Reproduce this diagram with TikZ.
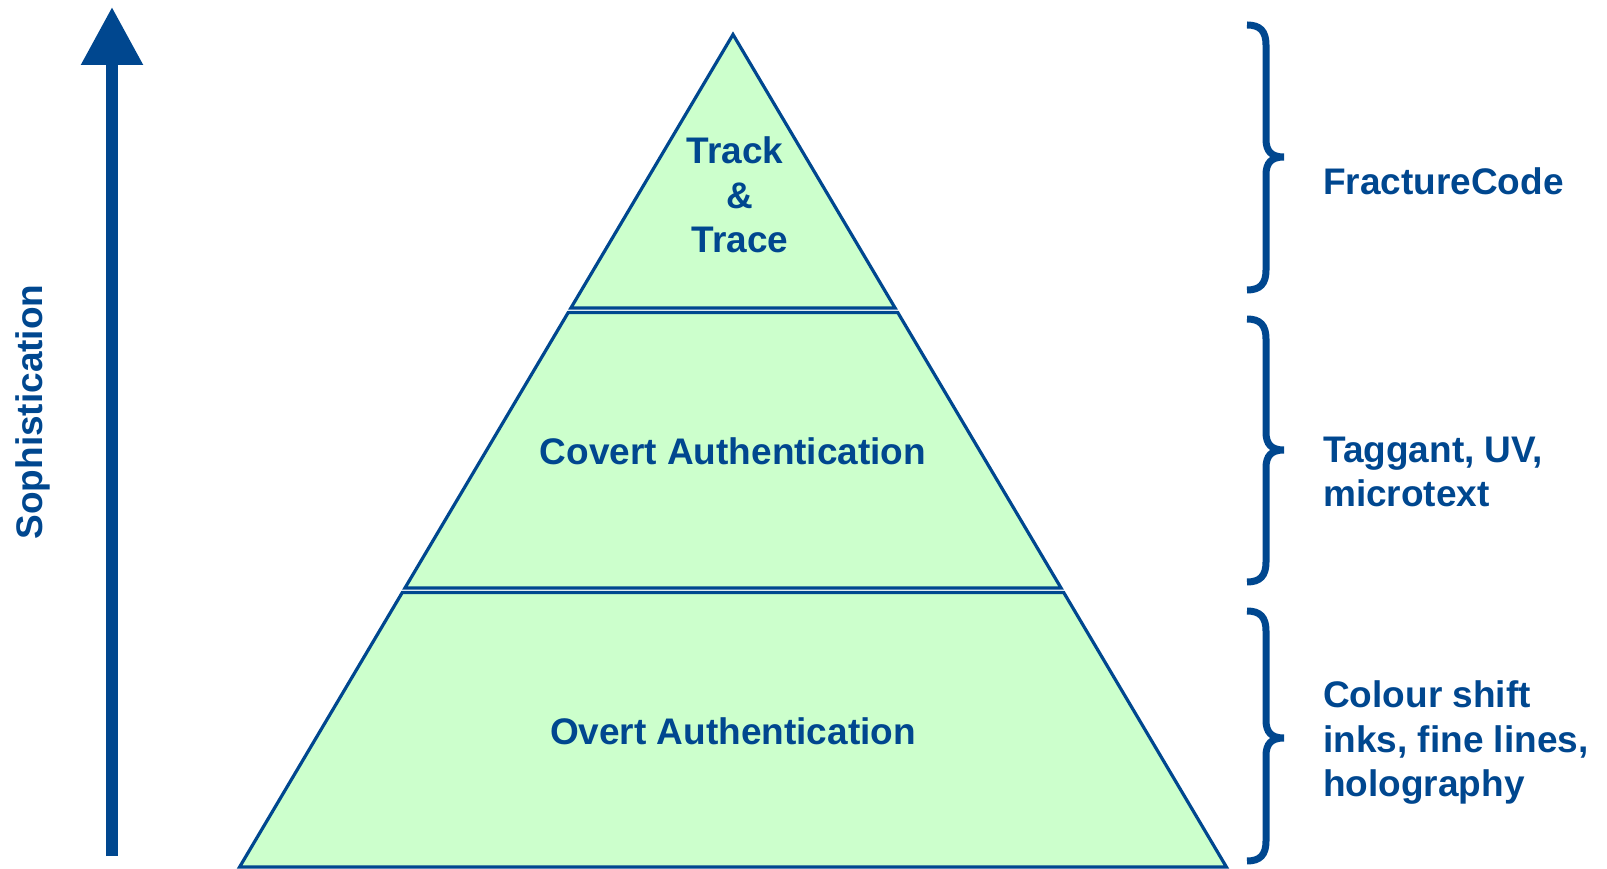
\documentclass[tikz,border=0pt]{standalone}
\usepackage{fontspec}
\setmainfont{Liberation Sans}
\usetikzlibrary{arrows.meta}
\definecolor{pyrblue}{RGB}{0,71,143}
\definecolor{pyrgreen}{RGB}{204,255,204}
\tikzset{
  layer/.style={draw=pyrblue, fill=pyrgreen, line width=3.2pt, line join=miter},
  pyrtext/.style={text=pyrblue, font=\bfseries\fontsize{37}{44.5}\selectfont, inner sep=0pt, align=center},
  sidetext/.style={pyrtext, anchor=west, align=left},
  bracket/.style={draw=pyrblue, line width=7pt}
}
\begin{document}
\begin{tikzpicture}[x=1pt,y=1pt]
    \useasboundingbox (0,0) rectangle (1607,868);
    \pgfmathsetmacro{\apexy}{833.5}
    \pgfmathsetmacro{\slope}{494/833.5}
    % top of the pyramid
    \draw [layer] (733,\apexy) -- ({733-\slope*(\apexy-560)},560) -- ({733+\slope*(\apexy-560)},560) -- cycle;
    % the two lower layers
    \foreach \ytop/\ybot in {555.5/280, 275.5/1}{
        \draw [layer] ({733-\slope*(\apexy-\ytop)},\ytop) -- ({733+\slope*(\apexy-\ytop)},\ytop)
            -- ({733+\slope*(\apexy-\ybot)},\ybot) -- ({733-\slope*(\apexy-\ybot)},\ybot) -- cycle;
    }
    \node [pyrtext] (tracktext) at (735,673) {Track\\\hspace{10pt}\&\\\hspace{10pt}Trace};
    \node [pyrtext] (coverttext) at (733,417) {Covert Authentication};
    \node [pyrtext] (overttext) at (733,137) {Overt Authentication};

    % braces on the right
    \foreach \t/\m/\b in {843/711/578, 549/418/286, 257/130/7}{
        \draw [bracket] (1247,\t) .. controls (1260,\t) and (1266,{\t-6}) .. (1266,{\t-20})
            -- (1266,{\m+18}) .. controls (1266,{\m+6}) and (1271,\m) .. (1284,\m)
            .. controls (1271,\m) and (1266,{\m-6}) .. (1266,{\m-18})
            -- (1266,{\b+20}) .. controls (1266,{\b+6}) and (1260,\b) .. (1247,\b);
    }
    \node [sidetext] (fracturetext) at (1323,687) {FractureCode};
    \node [sidetext] (taggtext) at (1323,396) {Taggant, UV,\\microtext};
    \node [sidetext] (colourtext) at (1323,125) {Colour shift\\inks, fine lines,\\holography};

    % sophistication arrow
    \coordinate (arrowfoot) at (112,12);
    \coordinate (arrowtip) at (112,861);
    \draw [pyrblue, line width=12pt, -{Triangle[width=59pt,length=58pt]}] (arrowfoot) -- (arrowtip);
    \node [pyrtext, rotate=90] (sophtext) at (33,456) {Sophistication};
\end{tikzpicture}
\end{document}
